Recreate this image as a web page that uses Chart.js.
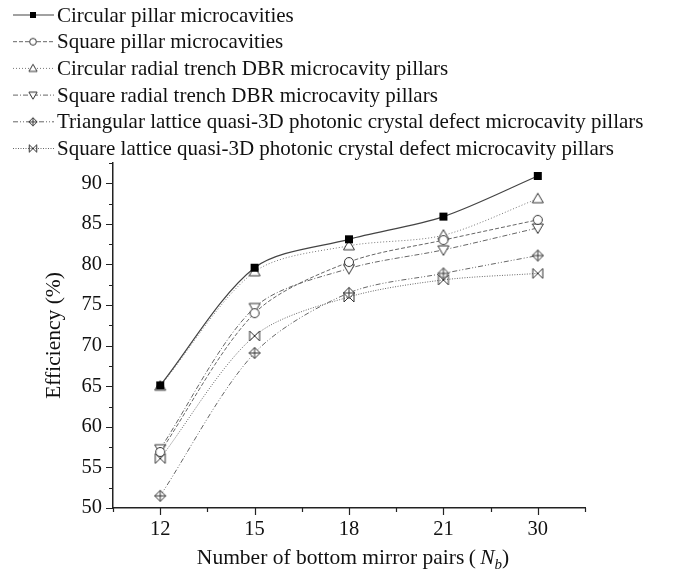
<!DOCTYPE html>
<html>
<head>
<meta charset="utf-8">
<script src="https://cdn.jsdelivr.net/npm/chart.js@4/dist/chart.umd.min.js"></script>
<style>
  html, body { margin: 0; padding: 0; background: #fff; }
  canvas { display: block; }
</style>
</head>
<body>
<canvas id="chart" width="679" height="576"></canvas>
<script>
const mirrorPairs = ['12', '15', '18', '21', '30'];
const seriesNames = [
  'Circular pillar microcavities',
  'Square pillar microcavities',
  'Circular radial trench DBR microcavity pillars',
  'Square radial trench DBR microcavity pillars',
  'Triangular lattice quasi-3D photonic crystal defect microcavity pillars',
  'Square lattice quasi-3D photonic crystal defect microcavity pillars'
];
const circularPillar = [65.1, 79.6, 83.1, 85.9, 90.9];
const squarePillar = [56.9, 74.0, 80.3, 83.0, 85.5];
const circularRadial = [65.0, 79.1, 82.3, 83.6, 88.1];
const squareRadial = [57.3, 74.7, 79.5, 81.8, 84.5];
const triangularLattice = [51.5, 69.1, 76.5, 78.9, 81.1];
const squareLattice = [56.1, 71.2, 76.0, 78.1, 78.9];

const FONT = '"Liberation Serif", "Times New Roman", serif';
const INK = '#111';

// little canvases used as point markers
function marker(kind, s) {
  const c = document.createElement('canvas');
  c.width = 14; c.height = 14;
  const g = c.getContext('2d');
  g.translate(7, 7);
  g.scale(s, s);
  g.strokeStyle = '#333';
  g.fillStyle = '#fff';
  g.lineWidth = 1 / s;
  g.beginPath();
  switch (kind) {
    case 'square':
      g.fillStyle = '#000';
      g.fillRect(-4, -4, 8, 8);
      return c;
    case 'circle':
      g.arc(0, 0, 4.5, 0, Math.PI * 2);
      break;
    case 'up':
      g.moveTo(0, -5.5); g.lineTo(5.5, 4); g.lineTo(-5.5, 4); g.closePath();
      break;
    case 'down':
      g.moveTo(0, 5.5); g.lineTo(5.5, -4); g.lineTo(-5.5, -4); g.closePath();
      break;
    case 'diamond':
      g.moveTo(0, -5.5); g.lineTo(5.5, 0); g.lineTo(0, 5.5); g.lineTo(-5.5, 0); g.closePath();
      g.fill(); g.stroke();
      g.beginPath();
      g.moveTo(0, -5.5); g.lineTo(0, 5.5); g.moveTo(-5.5, 0); g.lineTo(5.5, 0);
      g.stroke();
      return c;
    case 'bowtie':
      g.moveTo(-5, -5); g.lineTo(5, 5); g.lineTo(5, -5); g.lineTo(-5, 5); g.closePath();
      g.stroke();
      return c;
  }
  g.fill();
  g.stroke();
  return c;
}

const styles = [
  { m: 'square', dash: [], color: '#444', w: 1.2 },
  { m: 'circle', dash: [4, 2], color: '#666', w: 1 },
  { m: 'up', dash: [1, 2], color: '#777', w: 1 },
  { m: 'down', dash: [5, 2, 1, 2], color: '#666', w: 1 },
  { m: 'diamond', dash: [5, 2, 1, 2, 1, 2], color: '#666', w: 1 },
  { m: 'bowtie', dash: [1, 1.5], color: '#666', w: 1 }
];
const seriesData = [circularPillar, squarePillar, circularRadial, squareRadial, triangularLattice, squareLattice];

const datasets = seriesData.map((d, k) => ({
  label: seriesNames[k],
  data: d,
  borderColor: styles[k].color,
  borderWidth: styles[k].w,
  borderDash: styles[k].dash,
  pointStyle: marker(styles[k].m, 1),
  legendMark: marker(styles[k].m, 0.75),
  pointRadius: 5,
  tension: 0.3,
  fill: false
}));

// ticks, legend and x title drawn by hand
const extras = {
  id: 'extras',
  afterDraw(chart) {
    const ctx = chart.ctx;
    const x = chart.scales.x, y = chart.scales.y;
    const area = chart.chartArea;
    ctx.save();
    ctx.strokeStyle = '#222';
    ctx.lineWidth = 1.2;
    ctx.beginPath();
    for (let v = 50; v <= 92.5; v += 2.5) {
      const py = Math.round(y.getPixelForValue(v)) + 0.5;
      const len = v % 5 === 0 ? 7 : 4;
      ctx.moveTo(area.left, py); ctx.lineTo(area.left - len, py);
    }
    for (let i = -0.5; i <= mirrorPairs.length - 0.5; i += 0.5) {
      const px = Math.round(x.getPixelForValue(i)) + 0.5;
      const len = Number.isInteger(i) ? 7 : 4;
      ctx.moveTo(px, area.bottom); ctx.lineTo(px, area.bottom + len);
    }
    ctx.stroke();

    // legend
    ctx.font = '21px ' + FONT;
    ctx.textBaseline = 'middle';
    ctx.fillStyle = INK;
    chart.data.datasets.forEach((ds, k) => {
      const ry = 15 + k * 26.7;
      ctx.beginPath();
      ctx.setLineDash(ds.borderDash);
      ctx.strokeStyle = ds.borderColor;
      ctx.lineWidth = ds.borderWidth;
      ctx.moveTo(13, ry); ctx.lineTo(54, ry);
      ctx.stroke();
      ctx.setLineDash([]);
      ctx.drawImage(ds.legendMark, 33 - 7, ry - 7);
      ctx.fillText(ds.label, 57, ry + 1);
    });

    // x axis title with italic N and subscript b
    const parts = [
      { t: 'Number of bottom mirror pairs\u2009(\u2009', f: '21.5px ' + FONT, dy: 0 },
      { t: 'N', f: 'italic 21.5px ' + FONT, dy: 0 },
      { t: 'b', f: 'italic 15px ' + FONT, dy: 5 },
      { t: ')', f: '21.5px ' + FONT, dy: 0 }
    ];
    let total = 0;
    parts.forEach(p => { ctx.font = p.f; p.w = ctx.measureText(p.t).width; total += p.w; });
    let cx = 353 - total / 2;
    ctx.textBaseline = 'alphabetic';
    parts.forEach(p => {
      ctx.font = p.f;
      ctx.fillText(p.t, cx, 564 + p.dy);
      cx += p.w;
    });
    ctx.restore();
  }
};

new Chart(document.getElementById('chart'), {
  type: 'line',
  data: { labels: mirrorPairs, datasets },
  options: {
    responsive: false,
    animation: false,
    devicePixelRatio: 1,
    layout: { padding: { top: 163, right: 94, left: 0, bottom: 0 } },
    plugins: { legend: { display: false }, tooltip: { enabled: false } },
    scales: {
      x: {
        type: 'category',
        offset: true,
        grid: { display: false, drawTicks: false },
        border: { display: true, color: '#222', width: 1.5 },
        ticks: { color: INK, font: { family: FONT, size: 20.5 }, padding: 9, maxRotation: 0 },
        afterFit: s => { s.height = 68; }
      },
      y: {
        min: 50,
        max: 92.5,
        grid: { display: false, drawTicks: false },
        border: { display: true, color: '#222', width: 1.5 },
        ticks: {
          stepSize: 2.5,
          autoSkip: false,
          color: INK,
          font: { family: FONT, size: 20.5 },
          padding: 11,
          callback: v => (v % 5 === 0 ? v : '')
        },
        title: {
          display: true,
          text: 'Efficiency (%)',
          color: INK,
          font: { family: FONT, size: 21.5 },
          padding: { top: 41, bottom: 0 }
        },
        afterFit: s => { s.width = 113; }
      }
    }
  },
  plugins: [extras]
});
</script>
</body>
</html>
